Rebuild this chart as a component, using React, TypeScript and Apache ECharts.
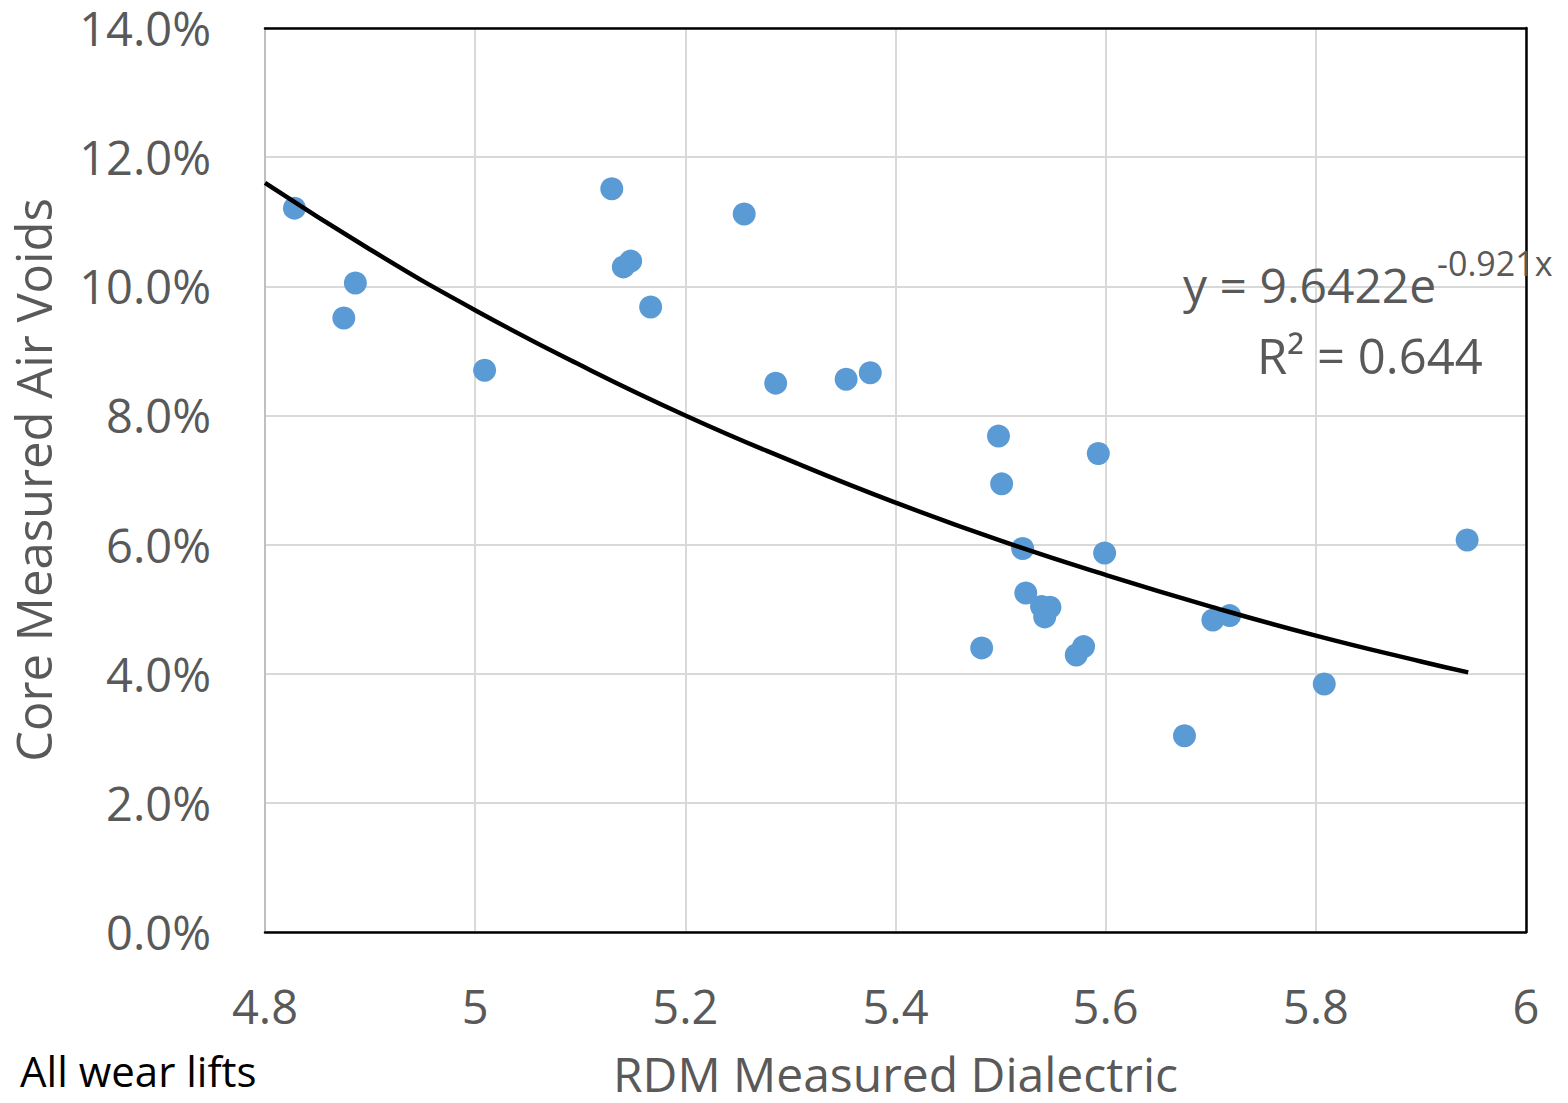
import React, { useEffect, useRef } from "react";
import * as echarts from "echarts";

// Scatter data: RDM measured dielectric (x) vs core measured air voids in % (y)
const dielectric = [
  4.828, 4.886, 4.875, 5.009, 5.13, 5.141, 5.148, 5.167, 5.256, 5.286, 5.353, 5.376,
  5.498, 5.501, 5.482, 5.521, 5.524, 5.539, 5.547, 5.542, 5.572, 5.579, 5.593, 5.599,
  5.675, 5.702, 5.718, 5.808, 5.944,
];
const airVoids = [
  11.21, 10.05, 9.51, 8.7, 11.51, 10.3, 10.39, 9.68, 11.12, 8.5, 8.56, 8.66,
  7.68, 6.94, 4.4, 5.94, 5.25, 5.04, 5.03, 4.88, 4.29, 4.42, 7.41, 5.87,
  3.04, 4.83, 4.9, 3.84, 6.07,
];

// Trendline (y = 9.6422e^-0.921x)
const trendX = [4.8, 4.9, 5.0, 5.1, 5.2, 5.3, 5.4, 5.5, 5.6, 5.7, 5.8, 5.9, 5.945];
const trendY = [11.6, 10.57, 9.63, 8.78, 8.0, 7.3, 6.65, 6.06, 5.53, 5.04, 4.59, 4.19, 4.02];

const yTicks = { min: 0, max: 14, interval: 2 };
const xTicks = { min: 4.8, max: 6, interval: 0.2 };

const equationMain = "y = 9.6422e";
const equationExp = "-0.921x";
const rSquared = "R² = 0.644";
const footnote = "All wear lifts";
const xTitle = "RDM Measured Dialectric";
const yTitle = "Core Measured Air Voids";

const FONT = "'Open Sans', sans-serif";
const GREY = "#595959";

export default function App() {
  const ref = useRef<HTMLDivElement>(null);
  useEffect(() => {
    if (!ref.current) return;
    const chart = echarts.init(ref.current, undefined, { renderer: "svg" });
    const scatter = dielectric.map((x, i) => [x, airVoids[i]]);
    const trend = trendX.map((x, i) => [x, trendY[i]]);
    chart.setOption({
      animation: false,
      backgroundColor: "#ffffff",
      grid: { left: 265, top: 28, right: 42, bottom: 171, containLabel: false },
      xAxis: [
        {
          type: "value",
          min: xTicks.min,
          max: xTicks.max,
          interval: xTicks.interval,
          name: xTitle,
          nameLocation: "middle",
          nameGap: 119,
          nameTextStyle: { fontFamily: FONT, fontSize: 48, color: GREY, lineHeight: 44 },
          axisLine: { show: true, onZero: false, lineStyle: { color: "#000000", width: 2.5 } },
          axisTick: { show: false },
          axisLabel: {
            margin: 50,
            fontFamily: FONT,
            fontSize: 47,
            color: GREY,
            formatter: (v: number) => String(parseFloat(v.toFixed(1))),
          },
          splitLine: { show: true, lineStyle: { color: "#d9d9d9", width: 2 } },
        },
        {
          type: "value",
          position: "top",
          min: xTicks.min,
          max: xTicks.max,
          axisLine: { show: true, onZero: false, lineStyle: { color: "#000000", width: 2.5 } },
          axisTick: { show: false },
          axisLabel: { show: false },
          splitLine: { show: false },
        },
      ],
      yAxis: [
        {
          type: "value",
          min: yTicks.min,
          max: yTicks.max,
          interval: yTicks.interval,
          name: yTitle,
          nameLocation: "middle",
          nameGap: 208,
          nameTextStyle: { fontFamily: FONT, fontSize: 49, color: GREY },
          axisLine: { show: true, onZero: false, lineStyle: { color: "#bfbfbf", width: 2 } },
          axisTick: { show: false },
          axisLabel: {
            margin: 54,
            fontFamily: FONT,
            fontSize: 47,
            lineHeight: 40,
            color: GREY,
            formatter: (v: number) => v.toFixed(1) + "%",
          },
          splitLine: { show: true, lineStyle: { color: "#d9d9d9", width: 2 } },
        },
        {
          type: "value",
          position: "right",
          min: yTicks.min,
          max: yTicks.max,
          axisLine: { show: true, onZero: false, lineStyle: { color: "#000000", width: 2.5 } },
          axisTick: { show: false },
          axisLabel: { show: false },
          splitLine: { show: false },
        },
      ],
      series: [
        {
          type: "scatter",
          data: scatter,
          symbol: "circle",
          symbolSize: 23,
          itemStyle: { color: "#5b9bd5", opacity: 1 },
          z: 2,
        },
        {
          type: "line",
          data: trend,
          smooth: true,
          showSymbol: false,
          symbol: "none",
          lineStyle: { color: "#000000", width: 4.5 },
          z: 3,
        },
      ],
      graphic: [
        {
          type: "text",
          left: 1183,
          top: 260,
          style: { text: equationMain, font: `48px ${FONT}`, fill: GREY },
          z: 10,
        },
        {
          type: "text",
          left: 1437,
          top: 246,
          style: { text: equationExp, font: `34px ${FONT}`, fill: GREY },
          z: 10,
        },
        {
          type: "text",
          left: 1257,
          top: 330,
          style: { text: rSquared, font: `49px ${FONT}`, fill: GREY },
          z: 10,
        },
        {
          type: "text",
          left: 20,
          top: 1049,
          style: { text: footnote, font: `42px ${FONT}`, fill: "#000000" },
          z: 10,
        },
      ],
    });
    return () => chart.dispose();
  }, []);
  return (
    <div
      ref={ref}
      style={{ position: "fixed", left: 0, top: 0, width: 1568, height: 1103, background: "#fff" }}
    />
  );
}
